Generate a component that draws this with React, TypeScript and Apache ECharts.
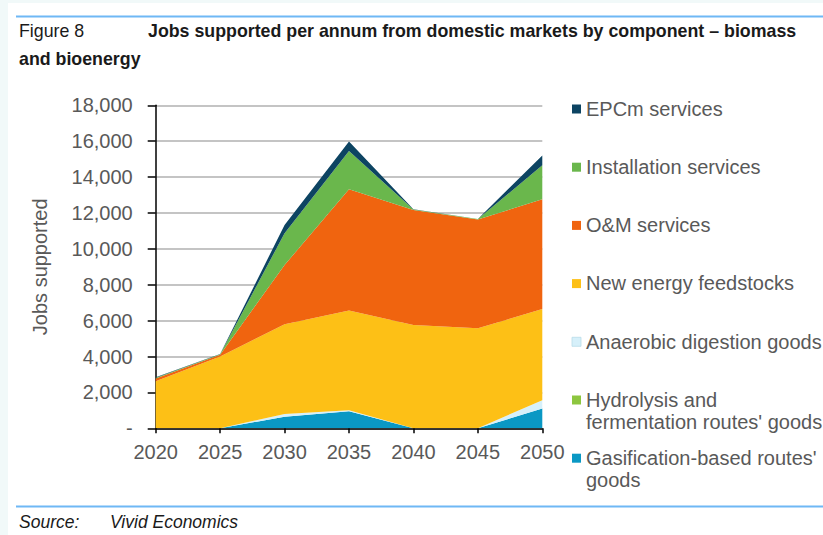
import React, { useEffect, useRef } from "react";
import * as echarts from "echarts";

const years = ["2020", "2025", "2030", "2035", "2040", "2045", "2050"];
const gasification = [0, 0, 650, 950, 0, 0, 1100];
const hydrolysis = [0, 0, 0, 0, 0, 0, 0];
const anaerobic = [0, 0, 150, 50, 0, 0, 470];
const feedstocks = [2620, 4000, 5000, 5560, 5760, 5570, 5080];
const omServices = [150, 100, 3300, 6760, 6410, 6060, 6110];
const installation = [50, 20, 1770, 2140, 30, 30, 1900];
const epcm = [30, 20, 460, 520, 10, 10, 540];

const seriesNames = [
  "Gasification-based routes' goods",
  "Hydrolysis and fermentation routes' goods",
  "Anaerobic digestion goods",
  "New energy feedstocks",
  "O&M services",
  "Installation services",
  "EPCm services",
];
const legendLabels = [
  "Gasification-based routes'\ngoods",
  "Hydrolysis and\nfermentation routes' goods",
  "Anaerobic digestion goods",
  "New energy feedstocks",
  "O&M services",
  "Installation services",
  "EPCm services",
];
const seriesData = [gasification, hydrolysis, anaerobic, feedstocks, omServices, installation, epcm];
const colors = ["#0a98c4", "#8dc63f", "#d6f0fa", "#fdc016", "#f0640f", "#6ab74c", "#0d4462"];

const yTicks = { min: 0, max: 18000, interval: 2000 };

export default function App() {
  const ref = useRef<HTMLDivElement>(null);

  useEffect(() => {
    document.body.style.margin = "0";
    if (!ref.current) return;
    const chart = echarts.init(ref.current, null, { renderer: "svg" });

    const textColor = "#595959";
    const legendX = 572;
    const legendTop = 109;
    const legendGap = 58.2;

    const legendGraphics: any[] = [];
    const order = [...seriesNames.keys()].reverse();
    order.forEach((idx, i) => {
      const cy = legendTop + i * legendGap;
      legendGraphics.push({
        type: "rect",
        shape: { x: legendX, y: cy - 4.5, width: 9, height: 9 },
        style: {
          fill: colors[idx],
          stroke: idx === 2 ? "#b9dce8" : undefined,
          lineWidth: idx === 2 ? 0.8 : 0,
        },
      });
      legendGraphics.push({
        type: "text",
        x: legendX + 14,
        y: cy - 11.5,
        style: {
          text: legendLabels[idx],
          fill: textColor,
          font: "20px 'Liberation Sans', Arial, sans-serif",
          lineHeight: 22.5,
          verticalAlign: "top",
          align: "left",
        },
      });
    });

    const option: any = {
      animation: false,
      backgroundColor: "#f1f9f9",
      grid: { left: 155.7, top: 105.3, width: 386.6, height: 323, containLabel: false },
      xAxis: {
        type: "category",
        data: years,
        boundaryGap: false,
        axisLine: { lineStyle: { color: "#000", width: 1.5 } },
        axisTick: { show: true, length: 5, alignWithLabel: true, lineStyle: { color: "#000", width: 1.5 } },
        axisLabel: {
          color: textColor,
          fontSize: 20,
          fontFamily: "'Liberation Sans', Arial, sans-serif",
          margin: 14,
          interval: 0,
        },
      },
      yAxis: {
        type: "value",
        min: yTicks.min,
        max: yTicks.max,
        interval: yTicks.interval,
        name: "Jobs supported",
        nameLocation: "middle",
        nameRotate: 90,
        nameGap: 106,
        nameTextStyle: {
          color: textColor,
          fontSize: 20,
          fontFamily: "'Liberation Sans', Arial, sans-serif",
        },
        axisLine: { show: true, lineStyle: { color: "#000", width: 1.5 } },
        axisTick: { show: true, length: 8, lineStyle: { color: "#000", width: 1.5 } },
        splitLine: { show: true, lineStyle: { color: "#c4c4c4", width: 2 } },
        axisLabel: {
          color: textColor,
          fontSize: 20,
          fontFamily: "'Liberation Sans', Arial, sans-serif",
          margin: 23,
          formatter: (v: number) => (v === 0 ? "-" : v.toLocaleString("en-US")),
        },
      },
      series: seriesNames.map((name, i) => ({
        name,
        type: "line",
        stack: "total",
        data: seriesData[i],
        symbol: "none",
        lineStyle: { width: 0 },
        areaStyle: { color: colors[i], opacity: 1 },
        itemStyle: { color: colors[i] },
        z: 2,
      })),
      graphic: [
        {
          type: "rect",
          z: -10,
          silent: true,
          shape: { x: 8, y: 3, width: 815, height: 532 },
          style: { fill: "#ffffff" },
        },
        {
          type: "line",
          shape: { x1: 16, y1: 16.5, x2: 823, y2: 16.5 },
          style: { stroke: "#6fb8f5", lineWidth: 2 },
        },
        {
          type: "line",
          shape: { x1: 16, y1: 506.5, x2: 823, y2: 506.5 },
          style: { stroke: "#6fb8f5", lineWidth: 2 },
        },
        {
          type: "text",
          x: 19,
          y: 30.5,
          style: {
            text: "Figure 8",
            fill: "#1a1a1a",
            font: "17.8px 'Liberation Sans', Arial, sans-serif",
            verticalAlign: "middle",
          },
        },
        {
          type: "text",
          x: 148,
          y: 30.5,
          style: {
            text: "Jobs supported per annum from domestic markets by component – biomass",
            fill: "#1a1a1a",
            font: "bold 17.8px 'Liberation Sans', Arial, sans-serif",
            verticalAlign: "middle",
          },
        },
        {
          type: "text",
          x: 19,
          y: 59,
          style: {
            text: "and bioenergy",
            fill: "#1a1a1a",
            font: "bold 17.8px 'Liberation Sans', Arial, sans-serif",
            verticalAlign: "middle",
          },
        },
        {
          type: "text",
          x: 19,
          y: 522,
          style: {
            text: "Source:",
            fill: "#1a1a1a",
            font: "italic 17.5px 'Liberation Sans', Arial, sans-serif",
            verticalAlign: "middle",
          },
        },
        {
          type: "text",
          x: 110,
          y: 522,
          style: {
            text: "Vivid Economics",
            fill: "#1a1a1a",
            font: "italic 17.5px 'Liberation Sans', Arial, sans-serif",
            verticalAlign: "middle",
          },
        },
        ...legendGraphics,
      ],
    };

    chart.setOption(option);
    return () => chart.dispose();
  }, []);

  return <div ref={ref} style={{ width: 823, height: 535 }} />;
}
